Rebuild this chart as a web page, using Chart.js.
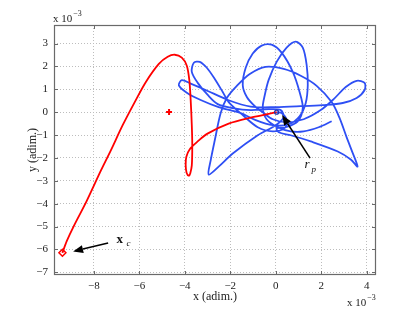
<!DOCTYPE html>
<html>
<head>
<meta charset="utf-8">
<script src="https://cdn.jsdelivr.net/npm/chart.js@4.4.1/dist/chart.umd.min.js"></script>
<style>
  html, body { margin: 0; padding: 0; background: #fff; }
</style>
</head>
<body>
<canvas id="chart" width="415" height="312"></canvas>
<script>
// All values are in units of 1e-3 (adim.)
const xTicks = [-8, -6, -4, -2, 0, 2, 4];
const yTicks = [-7, -6, -5, -4, -3, -2, -1, 0, 1, 2, 3];

// Chaser path (red), from x_c to r_p
const chaserX = [-9.38, -9.19, -8.88, -8.31, -7.69, -7.25, -6.73, -6.20, -5.71, -5.14, -4.75, -4.44, -4.13, -3.91, -3.80, -3.74,
  -3.69, -3.67, -3.69, -3.76, -3.82, -3.92, -3.96, -3.93, -3.78, -3.43, -3.00, -2.07, -1.10, -0.31, 0.04];
const chaserY = [-6.15, -5.64, -4.98, -3.88, -2.56, -1.67, -0.57, 0.44, 1.32, 2.11, 2.42, 2.51, 2.38, 2.03, 1.41, 0.53,
  -0.57, -1.45, -2.33, -2.68, -2.78, -2.65, -2.30, -1.95, -1.62, -1.28, -0.94, -0.50, -0.24, -0.08, 0];

// Target path (blue)
const targetX = [2.46, 1.89, 1.23, 0.66, 0.09, -0.40, -0.57, -0.48, -0.31, 0.04,
  0.48, 0.88, 1.19, 1.36, 1.41, 1.32, 1.05, 0.57, -0.13, -0.88,
  -1.54, -2.51, -3.30, -3.91, -4.26, -4.13, -3.74, -3.08, -2.07, -1.10,
  0, 1.10, 2.07, 2.95, 3.56, 3.91, 3.91, 3.56, 3.08, 2.55,
  1.98, 1.23, 0.44, -0.13, -0.53, -0.92, -1.27, -1.45, -1.32, -1.01,
  -0.62, -0.18, 0.26, 0.75, 1.05, 1.19, 0.97, 0.44, 0.04, 0.13,
  0.66, 1.54, 2.73, 3.30, 3.60, 3.34, 3.12, 2.81, 2.46, 1.80,
  1.10, 0.35, -0.44, -1.14, -1.71, -2.15, -2.42, -2.68, -2.86, -2.95,
  -2.51, -1.89, -0.79, 0, 0.35, 0.22, -0.31, -1.10, -1.89, -2.55,
  -2.99, -3.43, -3.69, -3.60, -3.34, -3.03, -2.68, -2.33, -2.07, -1.45,
  -0.79, -0.13, 0.40, 0.48, 0.26, 0.04];
const targetY = [-0.40, -0.66, -0.84, -0.84, -0.66, -0.31, 0.18, 0.75, 1.41, 2.20,
  2.82, 3.08, 2.82, 2.07, 1.19, 0.40, -0.18, -0.53, -0.57, -0.35,
  -0.04, 0.22, 0.53, 0.85, 1.17, 1.40, 1.25, 0.97, 0.52, 0.24,
  0.22, 0.26, 0.31, 0.40, 0.62, 0.97, 1.28, 1.37, 1.10, 0.57,
  0.09, -0.31, -0.44, -0.31, -0.04, 0.26, 0.66, 1.19, 1.94, 2.56,
  2.91, 2.95, 2.60, 1.76, 0.88, 0.18, -0.40, -0.66, -0.70, -0.88,
  -1.01, -1.28, -1.72, -2.07, -2.38, -1.67, -1.10, -0.26, 0.44, 1.15,
  1.59, 1.89, 1.98, 1.67, 1.15, 0.62, -0.04, -1.23, -2.11, -2.73,
  -2.38, -1.81, -1.01, -0.57, -0.22, 0.09, 0.13, 0.09, 0.18, 0.35,
  0.75, 1.28, 1.76, 2.16, 2.20, 1.94, 1.45, 0.88, 0.44, -0.13,
  -0.66, -0.84, -0.70, -0.35, -0.04, 0];

// Marked points
const xcX = [-9.38], xcY = [-6.15];       // x_c (diamond)
const crossX = [-4.69], crossY = [0.01];  // red cross
const rpX = [0.04], rpY = [0];            // r_p (small circle)

// Annotation arrows: [tailX, tailY, headX, headY]
const xcArrow = [-7.37, -5.72, -8.91, -6.09];
const rpArrow = [1.51, -2.01, 0.28, -0.13];

const pts = (xs, ys) => xs.map((v, i) => ({ x: v, y: ys[i] }));
const fmt = v => (v < 0 ? '\u2212' + Math.abs(v) : String(v));
const serif = "'Liberation Serif', 'DejaVu Serif', serif";
const boxColor = '#6a6a6a';

// Draws the axes box, inward ticks, titles, exponents and arrows (MATLAB look)
const decorations = {
  id: 'decorations',
  afterDraw(chart) {
    const { ctx, chartArea: a, scales: { x, y } } = chart;
    ctx.save();

    // inward tick marks on all four sides
    ctx.strokeStyle = boxColor;
    ctx.lineWidth = 1;
    ctx.beginPath();
    xTicks.forEach(v => {
      const px = Math.round(x.getPixelForValue(v)) + 0.5;
      ctx.moveTo(px, a.bottom); ctx.lineTo(px, a.bottom - 4);
      ctx.moveTo(px, a.top); ctx.lineTo(px, a.top + 4);
    });
    yTicks.forEach(v => {
      const py = Math.round(y.getPixelForValue(v)) + 0.5;
      ctx.moveTo(a.left, py); ctx.lineTo(a.left + 4, py);
      ctx.moveTo(a.right, py); ctx.lineTo(a.right - 4, py);
    });
    ctx.stroke();

    // box
    ctx.lineWidth = 1.2;
    ctx.strokeRect(a.left + 0.5, a.top + 0.5, a.right - a.left - 1, a.bottom - a.top - 1);

    // axis titles
    ctx.fillStyle = '#222';
    ctx.font = '12px ' + serif;
    ctx.textAlign = 'center';
    ctx.textBaseline = 'middle';
    ctx.fillText('x (adim.)', (a.left + a.right) / 2, 297);
    ctx.save();
    ctx.translate(33, (a.top + a.bottom) / 2);
    ctx.rotate(-Math.PI / 2);
    ctx.fillText('y (adim.)', 0, 0);
    ctx.restore();

    // exponent labels
    const expo = (left, base) => {
      ctx.textAlign = 'left';
      ctx.textBaseline = 'alphabetic';
      ctx.font = '11px ' + serif;
      ctx.fillText('x 10', left, base);
      const w = ctx.measureText('x 10').width;
      ctx.font = '8px ' + serif;
      ctx.fillText('\u22123', left + w + 1, base - 6);
    };
    expo(53, 22);
    expo(347, 306);

    // arrows
    const arrow = (arr) => {
      const x1 = x.getPixelForValue(arr[0]), y1 = y.getPixelForValue(arr[1]);
      const x2 = x.getPixelForValue(arr[2]), y2 = y.getPixelForValue(arr[3]);
      const ang = Math.atan2(y2 - y1, x2 - x1);
      const hl = 10, hw = 4;
      const bx = x2 - hl * Math.cos(ang), by = y2 - hl * Math.sin(ang);
      ctx.strokeStyle = '#000';
      ctx.fillStyle = '#000';
      ctx.lineWidth = 1.5;
      ctx.beginPath();
      ctx.moveTo(x1, y1); ctx.lineTo(bx, by);
      ctx.stroke();
      ctx.beginPath();
      ctx.moveTo(x2, y2);
      ctx.lineTo(bx + hw * Math.sin(ang), by - hw * Math.cos(ang));
      ctx.lineTo(bx - hw * Math.sin(ang), by + hw * Math.cos(ang));
      ctx.closePath();
      ctx.fill();
    };
    arrow(xcArrow);
    arrow(rpArrow);

    // annotation labels
    ctx.fillStyle = '#111';
    ctx.textAlign = 'left';
    ctx.textBaseline = 'alphabetic';
    let lx = x.getPixelForValue(-7.0), ly = y.getPixelForValue(-5.72);
    ctx.font = 'bold 13px ' + serif;
    ctx.fillText('x', lx, ly);
    ctx.font = 'italic 9px ' + serif;
    ctx.fillText('c', lx + ctx.measureText('x').width + 6, ly + 3);

    lx = x.getPixelForValue(1.27); ly = y.getPixelForValue(-2.45);
    ctx.font = 'italic 13px ' + serif;
    ctx.fillText('r', lx, ly);
    ctx.font = 'italic 9px ' + serif;
    ctx.fillText('p', lx + 7, ly + 4);

    ctx.restore();
  }
};

new Chart(document.getElementById('chart'), {
  type: 'scatter',
  data: {
    datasets: [
      { label: 'chaser', data: pts(chaserX, chaserY), showLine: true, borderColor: '#ff0000',
        borderWidth: 1.8, pointRadius: 0, tension: 0.3, order: 1 },
      { label: 'target', data: pts(targetX, targetY), showLine: true, borderColor: '#2e4ff4',
        borderWidth: 1.8, pointRadius: 0, tension: 0.3, order: 2 },
      { label: 'x_c', data: pts(xcX, xcY), pointStyle: 'rectRot', pointRadius: 3.5,
        borderColor: '#ff0000', backgroundColor: 'rgba(255,255,255,0)', borderWidth: 1.5, order: 0 },
      { label: 'cross', data: pts(crossX, crossY), pointStyle: 'cross', pointRadius: 3,
        borderColor: '#ff0000', borderWidth: 2, order: 0 },
      { label: 'r_p', data: pts(rpX, rpY), pointStyle: 'circle', pointRadius: 2,
        borderColor: '#2233aa', backgroundColor: 'rgba(255,255,255,0)', borderWidth: 1.2, order: 0 }
    ]
  },
  options: {
    responsive: false,
    animation: false,
    layout: { padding: { left: 0, top: 25, right: 39, bottom: 0 } },
    plugins: { legend: { display: false }, tooltip: { enabled: false } },
    scales: {
      x: {
        type: 'linear', min: -9.75, max: 4.41,
        afterBuildTicks: s => { s.ticks = xTicks.map(v => ({ value: v })); },
        afterFit: s => { s.height = 37; },
        grid: { color: '#bdbdbd', lineWidth: 1, drawTicks: false },
        border: { display: false, dash: [1, 2] },
        ticks: { padding: 5, color: '#222', font: { family: serif, size: 11 }, maxRotation: 0, callback: v => fmt(v) }
      },
      y: {
        type: 'linear', min: -7.12, max: 3.81,
        afterBuildTicks: s => { s.ticks = yTicks.map(v => ({ value: v })); },
        afterFit: s => { s.width = 54; },
        grid: { color: '#bdbdbd', lineWidth: 1, drawTicks: false },
        border: { display: false, dash: [1, 2] },
        ticks: { padding: 6, color: '#222', font: { family: serif, size: 11 }, callback: v => fmt(v) }
      }
    }
  },
  plugins: [decorations]
});
</script>
</body>
</html>
